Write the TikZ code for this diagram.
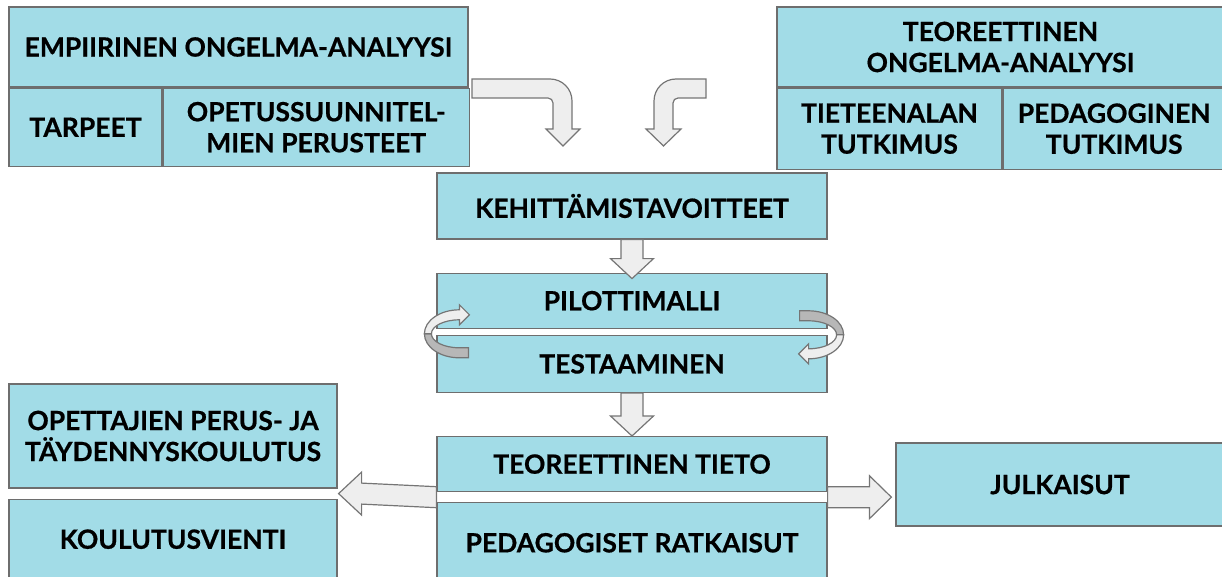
\documentclass[tikz,border=0pt]{standalone}
\usepackage{fontspec}
\setmainfont{Lato}[BoldFeatures={FakeBold=0.6}]
\usepackage{xcolor}
\usepackage{tikz}
\usetikzlibrary{positioning, calc}

\definecolor{boxfill}{HTML}{A2DCE7}
\definecolor{boxline}{HTML}{6E6E6E}
\definecolor{arrfill}{HTML}{EEEEEE}
\definecolor{arrline}{HTML}{757575}
\definecolor{curlback}{HTML}{B7B7B7}

% block arrows between boxes: #1 tail, #2 tip
\newcommand{\downblk}[2]{%
  \draw[blk] ($(#1)+(-11,0)$) -- ($(#2)+(-11,-20)$) -- ($(#2)+(-21.5,-20)$) -- (#2)
    -- ($(#2)+(21.5,-20)$) -- ($(#2)+(11,-20)$) -- ($(#1)+(11,0)$) -- cycle;}
\newcommand{\leftblk}[2]{%
  \draw[blk] ($(#1)+(0,-10.5)$) -- ($(#2)+(23,-10.5)$) -- ($(#2)+(23,-21.5)$) -- (#2)
    -- ($(#2)+(23,21.5)$) -- ($(#2)+(23,10.5)$) -- ($(#1)+(0,10.5)$) -- cycle;}
\newcommand{\rightblk}[2]{%
  \draw[blk] ($(#1)+(0,-10.5)$) -- ($(#2)+(-22,-10.5)$) -- ($(#2)+(-22,-21.5)$) -- (#2)
    -- ($(#2)+(-22,21.5)$) -- ($(#2)+(-22,10.5)$) -- ($(#1)+(0,10.5)$) -- cycle;}

\begin{document}
\begin{tikzpicture}[
  x=1pt, y=-1pt,
  box/.style={draw=boxline, line width=1.2pt, fill=boxfill, align=center,
              inner sep=0pt, font=\fontsize{26.5pt}{31pt}\selectfont\bfseries},
  blk/.style={draw=arrline, line width=1.2pt, fill=arrfill},
  curl/.pic={
    \draw[blk, fill=curlback] (-35,0) .. controls (-35,13.3) and (-19.3,24) .. (0,24)
      -- (9,24) -- (9,14) -- (0,14) .. controls (-15.5,14) and (-28,7.7) .. (-28,0) -- cycle;
    \draw[blk] (0,-24) .. controls (-19.3,-24) and (-35,-13.3) .. (-35,0) -- (-28,0)
      .. controls (-28,-7.7) and (-15.5,-14) .. (0,-14) -- (0,-9) -- (10,-19) -- (0,-29) -- cycle;
  }
]
\useasboundingbox (0,0) rectangle (1222,577);
\clip (0,0) rectangle (1222,577);

% top left: empirical analysis
\node[box, minimum width=459pt, minimum height=80pt] (emp) at (238.5,47) {EMPIIRINEN ONGELMA-ANALYYSI};
\node[box, minimum width=153pt, minimum height=78pt, anchor=north west] (tarpeet) at (emp.south west) {TARPEET};
\node[box, minimum width=306pt, minimum height=78pt, anchor=north west] (opsperus) at (tarpeet.north east) {OPETUSSUUNNITEL-\\MIEN PERUSTEET};

% top right: theoretical analysis
\node[box, minimum width=447pt, minimum height=80pt] (teor) at (1000.5,47) {TEOREETTINEN\\ONGELMA-ANALYYSI};
\node[box, minimum width=225pt, minimum height=81pt, anchor=north west] (tiet) at (teor.south west) {TIETEENALAN\\TUTKIMUS};
\node[box, minimum width=222pt, minimum height=81pt, anchor=north west] (pedtut) at (tiet.north east) {PEDAGOGINEN\\TUTKIMUS};

% middle column
\node[box, minimum width=390pt, minimum height=66pt] (kehit) at (632,206) {KEHITTÄMISTAVOITTEET};
\node[box, minimum width=390pt, minimum height=55pt, below=33pt of kehit] (pilot) {PILOTTIMALLI};
\node[box, minimum width=390pt, minimum height=57pt, below=6pt of pilot] (testaus) {TESTAAMINEN};
\node[box, minimum width=390pt, minimum height=55pt, below=43pt of testaus] (tieto) {TEOREETTINEN TIETO};
\node[box, minimum width=390pt, minimum height=80pt, below=10pt of tieto] (ratk) {PEDAGOGISET RATKAISUT};

% outputs
\node[box, minimum width=328pt, minimum height=104pt] (opett) at (173,436) {OPETTAJIEN PERUS- JA\\TÄYDENNYSKOULUTUS};
\node[box, minimum width=328pt, minimum height=80pt, below=10pt of opett] (vienti) {KOULUTUSVIENTI};
\node[box, minimum width=328pt, minimum height=83pt] (julk) at (1060,484.5) {JULKAISUT};

% bent arrows into the goals
\draw[blk] (472,79) -- (550,79) .. controls (562.2,79) and (572,88.8) .. (572,101) -- (572,129)
  -- (580,129) -- (563,146) -- (546,129) -- (553,129) -- (553,103)
  .. controls (553,100.2) and (550.8,98) .. (548,98) -- (472,98) -- cycle;
\draw[blk] (706,79) -- (676,79) .. controls (663.8,79) and (654,88.8) .. (654,101) -- (654,129)
  -- (646,129) -- (663.5,146) -- (681,129) -- (673,129) -- (673,103)
  .. controls (673,100.2) and (675.2,98) .. (678,98) -- (706,98) -- cycle;

% straight arrows
\coordinate (k2) at ([yshift=-6pt]pilot.north);
\downblk{kehit.south}{k2}
\downblk{testaus.south}{tieto.north}

\coordinate (lt) at ($(tieto.south west)!0.5!(ratk.north west)$);
\coordinate (ltip) at ($(opett.south east)!0.5!(vienti.north east)+(1,0)$);
\leftblk{lt}{ltip}
\coordinate (rt) at ($(tieto.south east)!0.5!(ratk.north east)$);
\coordinate (rtip) at ($(rt -| julk.west)+(-4,0)$);
\rightblk{rt}{rtip}

% loop between pilot and testing
\pic at ([shift={(23,5)}]pilot.south west) {curl};
\pic[rotate=180] at ([shift={(-19,6)}]pilot.south east) {curl};
\end{tikzpicture}
\end{document}
